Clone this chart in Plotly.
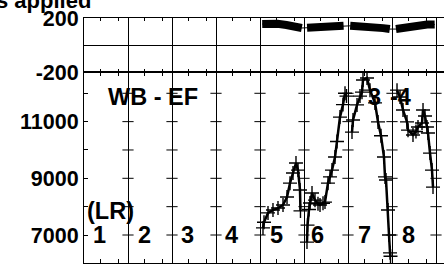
import plotly.graph_objects as go

# ---------------- data ----------------
col_bounds = [0, 1, 2, 3, 4, 5, 6, 7, 8]
minor_offsets = [0.375, 0.785]
col_labels = ["1", "2", "3", "4", "5", "6", "7", "8"]
col_label_x = [0.341, 1.364, 2.341, 3.341, 4.364, 5.318, 6.364, 7.364]

# top panel (dense band), per column
top_x5 = [4.05, 4.2, 4.4, 4.6, 4.8, 4.95]
top_y5 = [155, 160, 157, 148, 137, 126]
top_x6 = [5.07, 5.25, 5.45, 5.6, 5.75, 5.9]
top_y6 = [128, 130, 131, 133, 137, 142]
top_x7 = [6.05, 6.25, 6.45, 6.6, 6.8, 6.95]
top_y7 = [142, 140, 136, 131, 125, 118]
top_x8 = [7.09, 7.25, 7.45, 7.6, 7.8, 7.97]
top_y8 = [118, 128, 140, 147, 151, 152]

# bottom panel curve, per column
bot_x5 = [4.068, 4.091, 4.182, 4.295, 4.409, 4.523, 4.614, 4.682, 4.750, 4.818, 4.864, 4.909, 4.920]
bot_y5 = [7250, 7450, 7780, 7880, 7950, 8060, 8340, 8830, 9190, 9540, 9290, 8590, 7850]
bot_x6 = [5.068, 5.080, 5.114, 5.136, 5.182, 5.250, 5.318, 5.364, 5.432, 5.477, 5.545, 5.591,
          5.636, 5.705, 5.750, 5.818, 5.886, 5.932, 5.966]
bot_y6 = [6750, 7350, 7900, 8130, 8480, 8230, 8100, 8060, 8120, 8160, 8830, 9050,
          9290, 9750, 10300, 11160, 11600, 12000, 11900]
bot_x7 = [6.091, 6.114, 6.205, 6.273, 6.318, 6.341, 6.432, 6.500, 6.614, 6.682, 6.750, 6.818,
          6.841, 6.864, 6.909, 6.932, 6.955, 6.966]
bot_y7 = [10630, 11060, 11590, 11900, 12040, 12470, 12540, 12110, 11660, 10990, 10500, 9750,
          9050, 8940, 7880, 7000, 6370, 6250]
bot_x8 = [7.114, 7.182, 7.250, 7.341, 7.364, 7.477, 7.545, 7.591, 7.682, 7.705, 7.750, 7.795,
          7.818, 7.864, 7.909, 7.932]
bot_y8 = [12110, 11870, 11410, 10990, 10700, 10530, 10650, 10810, 10950, 11410, 11200, 10810,
          10600, 9890, 9290, 8690]

top_ticks = [-200, 200]
top_ticktext = ["-200", "200"]
bot_ticks = [7000, 8000, 9000, 10000, 11000, 12000]
bot_ticktext = ["7000", "", "9000", "", "11000", ""]

# ---------------- figure ----------------
FONT = "Arial"
FS_TICK = 21.5
FS_ANN = 23.5
fig = go.Figure()

def join(*segs):
    xs, ys = [], []
    for sx, sy in segs:
        xs += list(sx) + [None]
        ys += list(sy) + [None]
    return xs, ys

# thin continuous connection across columns (top panel)
tx_all = top_x5 + top_x6 + top_x7 + top_x8
ty_all = top_y5 + top_y6 + top_y7 + top_y8
fig.add_trace(go.Scatter(x=tx_all, y=ty_all, mode="lines", line=dict(color="black", width=1),
                         xaxis="x", yaxis="y", showlegend=False, hoverinfo="skip"))
tx, ty = join((top_x5, top_y5), (top_x6, top_y6), (top_x7, top_y7), (top_x8, top_y8))
fig.add_trace(go.Scatter(x=tx, y=ty, mode="lines", line=dict(color="black", width=8),
                         xaxis="x", yaxis="y", showlegend=False, hoverinfo="skip"))

bx, by = join((bot_x5, bot_y5), (bot_x6, bot_y6), (bot_x7, bot_y7), (bot_x8, bot_y8))
fig.add_trace(go.Scatter(x=bx, y=by, mode="lines+markers",
                         line=dict(color="black", width=2.5),
                         marker=dict(symbol="cross-thin", size=10, line=dict(color="black", width=1.4)),
                         xaxis="x2", yaxis="y2", showlegend=False, hoverinfo="skip"))

# y tick crosses on the column boundaries (bottom panel)
cx, cy = [], []
for b in col_bounds[1:]:
    for t in bot_ticks:
        cx.append(b)
        cy.append(t)
fig.add_trace(go.Scatter(x=cx, y=cy, mode="markers",
                         marker=dict(symbol="line-ew", size=8, line=dict(color="black", width=1)),
                         xaxis="x2", yaxis="y2", showlegend=False, hoverinfo="skip", cliponaxis=False))

split = 191 / 245
xr = [0, 360 / 44]

tickvals_x = [b + o for b in col_bounds for o in minor_offsets]

common_x = dict(range=xr, tickmode="array", tickvals=tickvals_x, ticks="inside",
                showticklabels=False, showline=True, linecolor="black", linewidth=1,
                mirror="ticks", showgrid=False, zeroline=False, tickcolor="black",
                automargin=False,
                minor=dict(tickmode="array", tickvals=col_bounds, showgrid=True,
                           gridcolor="black", gridwidth=1, ticklen=0))

tick_font = dict(family=FONT, size=FS_TICK, color="black", weight="bold")

fig.update_layout(
    width=444, height=264,
    margin=dict(l=84, r=0, t=18, b=1, autoexpand=False),
    paper_bgcolor="white", plot_bgcolor="white",
    font=dict(family=FONT, color="black"),
    xaxis=dict(domain=[0, 1], anchor="y", ticklen=3, **common_x),
    xaxis2=dict(domain=[0, 1], anchor="y2", matches="x", ticklen=4, **common_x),
    yaxis=dict(domain=[split, 1], range=[-200, 200], tickmode="array", tickvals=top_ticks,
               ticktext=top_ticktext, ticks="", showline=True, linecolor="black", showgrid=False,
               zeroline=True, zerolinecolor="black", zerolinewidth=1, automargin=False,
               tickfont=tick_font),
    yaxis2=dict(domain=[0, split], range=[6012, 12751], tickmode="array", tickvals=bot_ticks,
                ticktext=bot_ticktext, ticks="inside", ticklen=4, tickcolor="black",
                showline=True, linecolor="black", showgrid=False, zeroline=False,
                automargin=False, tickfont=tick_font),
)

ann_font = dict(family=FONT, size=FS_ANN, color="black", weight="bold")
annotations = []
for lab, lx in zip(col_labels, col_label_x):
    annotations.append(dict(x=lx, y=7000, xref="x2", yref="y2", text=lab, showarrow=False,
                            font=ann_font, xanchor="center", yanchor="middle", borderpad=0))
annotations.append(dict(x=0.591, y=7850, xref="x2", yref="y2", text="(LR)", showarrow=False,
                        font=ann_font, xanchor="center", yanchor="middle", borderpad=0))
annotations.append(dict(x=1.568, y=11867, xref="x2", yref="y2", text="WB - EF", showarrow=False,
                        font=ann_font, xanchor="center", yanchor="middle"))
annotations.append(dict(x=6.591, y=11867, xref="x2", yref="y2", text="3", showarrow=False,
                        font=ann_font, xanchor="center", yanchor="middle"))
annotations.append(dict(x=7.182, y=11867, xref="x2", yref="y2", text="-4", showarrow=False,
                        font=ann_font, xanchor="center", yanchor="middle"))
annotations.append(dict(x=(93 - 84) / 360, y=1.07, xref="paper", yref="paper", text="s applied",
                        showarrow=False, font=dict(family=FONT, size=22, color="black", weight="bold"),
                        xanchor="right", yanchor="middle"))
fig.update_layout(annotations=annotations)

fig.write_html("out.html",
               config={"displayModeBar": False, "staticPlot": True},
               post_script="document.body.style.margin='0';document.body.style.overflow='hidden';")
